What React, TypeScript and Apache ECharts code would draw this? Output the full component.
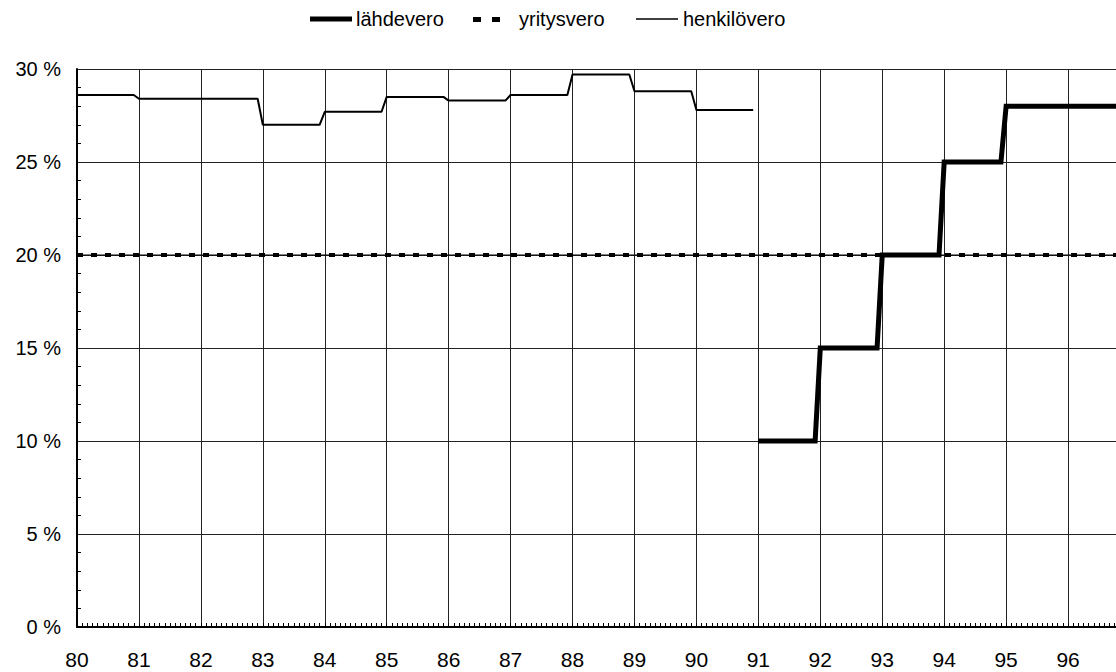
import React, { useEffect, useRef } from "react";
import * as echarts from "echarts";

// Data (annual step values)
const henkiloYears = [80, 81, 82, 83, 84, 85, 86, 87, 88, 89, 90];
const henkiloValues = [28.6, 28.4, 28.4, 27.0, 27.7, 28.5, 28.3, 28.6, 29.7, 28.8, 27.8];
const lahdeYears = [91, 92, 93, 94, 95];
const lahdeValues = [10, 15, 20, 25, 28];
const yritysYears = [80, 97];
const yritysValues = [20, 20];
const yTicks = [0, 5, 10, 15, 20, 25, 30];
const xTickYears = [80, 81, 82, 83, 84, 85, 86, 87, 88, 89, 90, 91, 92, 93, 94, 95, 96];
const legendNames = ["lähdevero", "yritysvero", "henkilövero"];

// step lines: each year's value holds until the last month, then moves to the next value
function stepPoints(years: number[], values: number[], lastEnd: number) {
  const pts: number[][] = [];
  years.forEach((y, i) => {
    pts.push([y, values[i]]);
    const end = i === years.length - 1 ? lastEnd : y + 11 / 12;
    pts.push([end, values[i]]);
  });
  return pts;
}

const FONT = "Liberation Sans";

export default function App() {
  const ref = useRef<HTMLDivElement>(null);
  useEffect(() => {
    if (!ref.current) return;
    const chart = echarts.init(ref.current, undefined, { renderer: "svg" });
    const legendText = (x: number, text: string) => ({
      type: "text",
      x,
      y: 19,
      style: {
        text,
        fontFamily: FONT,
        fontSize: 20,
        fill: "#000",
        verticalAlign: "middle",
        align: "left",
      },
    });
    chart.setOption({
      animation: false,
      backgroundColor: "#fff",
      graphic: [
        { type: "line", shape: { x1: 310, y1: 19, x2: 352, y2: 19 }, style: { stroke: "#000", lineWidth: 5 } },
        legendText(356, legendNames[0]),
        { type: "rect", shape: { x: 473, y: 17, width: 8, height: 5 }, style: { fill: "#000" } },
        { type: "rect", shape: { x: 492, y: 17, width: 8, height: 5 }, style: { fill: "#000" } },
        legendText(519, legendNames[1]),
        { type: "line", shape: { x1: 636, y1: 19, x2: 678, y2: 19 }, style: { stroke: "#000", lineWidth: 1.5 } },
        legendText(683, legendNames[2]),
      ],
      grid: { left: 77, top: 69, bottom: 45, right: 10 },
      xAxis: {
        type: "value",
        min: 80,
        max: 97,
        interval: 1,
        axisLine: { show: true, onZero: false, lineStyle: { color: "#000", width: 2 } },
        axisTick: { show: true, inside: true, length: 4, lineStyle: { color: "#000" } },
        minorTick: { show: true, splitNumber: 12, length: 4, lineStyle: { color: "#000", width: 1 } },
        splitLine: { show: true, lineStyle: { color: "#222", width: 1 } },
        axisLabel: {
          margin: 22,
          fontFamily: FONT,
          fontSize: 21,
          color: "#000",
          formatter: (v: number) => (xTickYears.includes(v) ? String(v) : ""),
        },
      },
      yAxis: {
        type: "value",
        min: 0,
        max: 30,
        interval: 5,
        axisLine: { show: true, lineStyle: { color: "#000", width: 2 } },
        axisTick: { show: false, inside: true },
        minorTick: { show: true, splitNumber: 5, length: 4, lineStyle: { color: "#000", width: 1 } },
        splitLine: { show: true, lineStyle: { color: "#222", width: 1 } },
        axisLabel: {
          margin: 16,
          fontFamily: FONT,
          fontSize: 20,
          color: "#000",
          formatter: (v: number) => (yTicks.includes(v) ? v + " %" : ""),
        },
      },
      series: [
        {
          name: "yritysvero-viiva",
          type: "line",
          symbol: "none",
          silent: true,
          data: yritysYears.map((y, i) => [y, yritysValues[i]]),
          lineStyle: { color: "#000", width: 1 },
          itemStyle: { color: "#000" },
          z: 3,
        },
        {
          name: legendNames[1],
          type: "line",
          symbol: "none",
          data: yritysYears.map((y, i) => [y, yritysValues[i]]),
          lineStyle: { color: "#000", width: 4, type: [6, 8], cap: "butt" },
          itemStyle: { color: "#000" },
          z: 4,
        },
        {
          name: legendNames[2],
          type: "line",
          symbol: "none",
          data: stepPoints(henkiloYears, henkiloValues, 90 + 11 / 12),
          lineStyle: { color: "#000", width: 2 },
          itemStyle: { color: "#000" },
          z: 5,
        },
        {
          name: legendNames[0],
          type: "line",
          symbol: "none",
          data: stepPoints(lahdeYears, lahdeValues, 97),
          lineStyle: { color: "#000", width: 5, join: "miter" },
          itemStyle: { color: "#000" },
          z: 6,
        },
      ],
    });
    return () => chart.dispose();
  }, []);
  return (
    <div
      style={{
        position: "fixed",
        left: 0,
        top: 0,
        width: 1116,
        height: 672,
        overflow: "hidden",
        background: "#fff",
      }}
    >
      <div ref={ref} style={{ width: 1140, height: 672 }} />
    </div>
  );
}
